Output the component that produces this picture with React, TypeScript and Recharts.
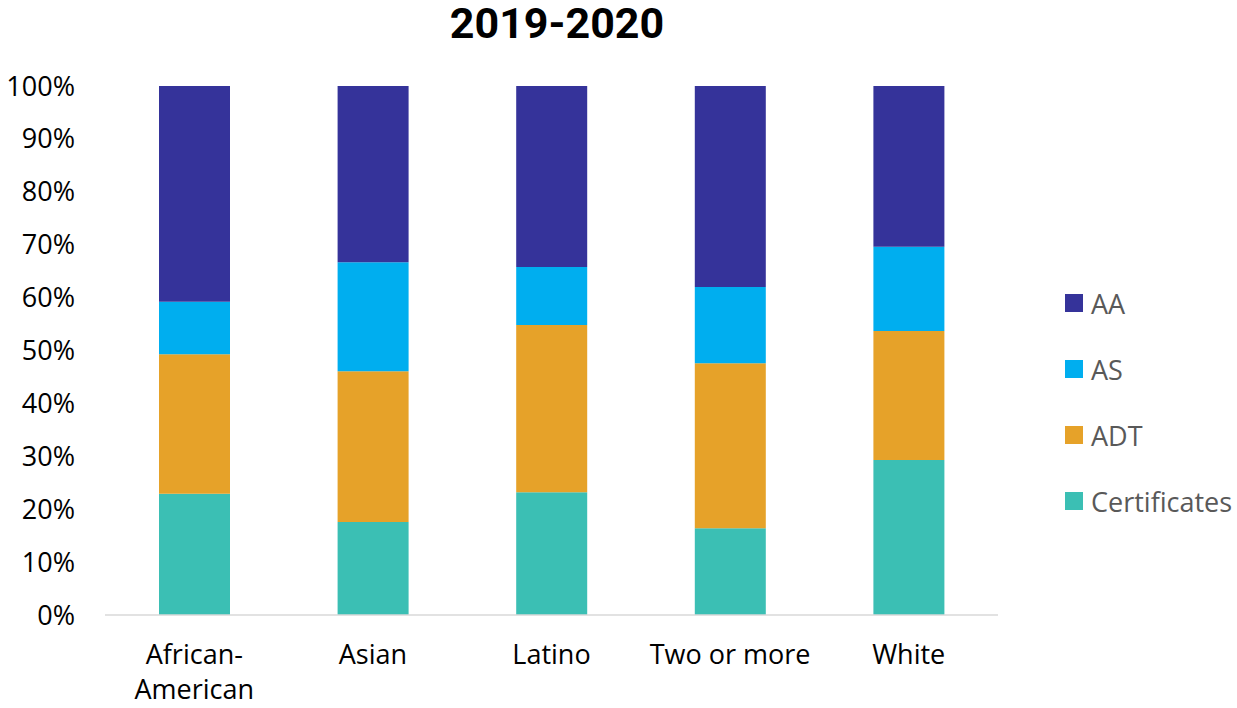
import React from 'react';
import { BarChart, Bar, XAxis, YAxis, Legend } from 'recharts';

const categories = ['African-American', 'Asian', 'Latino', 'Two or more', 'White'];
const certificates = [22.9, 17.6, 23.2, 16.4, 29.3];
const adt = [26.4, 28.5, 31.6, 31.2, 24.4];
const asDegrees = [9.9, 20.6, 11.0, 14.4, 15.9];
const aaDegrees = [40.8, 33.3, 34.2, 38.0, 30.4];
const yTicks = [0, 10, 20, 30, 40, 50, 60, 70, 80, 90, 100];

const series = [
    { key: 'Certificates', values: certificates, color: '#3BBFB4' },
    { key: 'ADT', values: adt, color: '#E6A229' },
    { key: 'AS', values: asDegrees, color: '#00AEEF' },
    { key: 'AA', values: aaDegrees, color: '#35339A' },
];

const data = categories.map((name, i) => {
    const row: Record<string, string | number> = { name };
    series.forEach((s) => {
        row[s.key] = s.values[i];
    });
    return row;
});

const FONT = '"Open Sans", sans-serif';

const XTick = (props: any) => {
    const { x, y, payload } = props;
    const label: string = payload.value;
    const lines = label.includes('-')
        ? [label.slice(0, label.indexOf('-') + 1), label.slice(label.indexOf('-') + 1)]
        : [label];
    return (
        <text x={x} y={y} textAnchor="middle" fill="#000" fontSize={27} fontFamily={FONT}>
            {lines.map((l, i) => (
                <tspan key={i} x={x} dy={i === 0 ? 49 : 35}>
                    {l}
                </tspan>
            ))}
        </text>
    );
};

const LegendContent = () => (
    <div style={{ fontFamily: FONT }}>
        {[...series].reverse().map((s) => (
            <div key={s.key} style={{ height: 66, display: 'flex', alignItems: 'center' }}>
                <span style={{ width: 18, height: 18, background: s.color, marginRight: 8 }} />
                <span style={{ fontSize: 27, color: '#595959' }}>{s.key}</span>
            </div>
        ))}
    </div>
);

export default function App() {
    return (
        <div style={{ position: 'absolute', left: 0, top: 0, width: 1237, height: 708, background: '#fff' }}>
            <div
                style={{
                    position: 'absolute',
                    left: 0,
                    width: 1114,
                    top: 0,
                    textAlign: 'center',
                    fontFamily: 'Roboto, sans-serif',
                    fontWeight: 700,
                    fontSize: 43,
                    lineHeight: '46px',
                    color: '#000',
                    zIndex: 1,
                }}
            >
                2019-2020
            </div>
            <BarChart
                width={1237}
                height={708}
                data={data}
                margin={{ top: 86, right: 239, bottom: 63, left: 0 }}
            >
                <XAxis
                    dataKey="name"
                    height={30}
                    axisLine={{ stroke: '#D9D9D9', strokeWidth: 1.5 }}
                    tickLine={false}
                    tickSize={0}
                    tickMargin={0}
                    interval={0}
                    tick={<XTick />}
                />
                <YAxis
                    width={105}
                    domain={[0, 100]}
                    ticks={yTicks}
                    tickFormatter={(v) => `${v}%`}
                    axisLine={false}
                    tickLine={false}
                    tickSize={0}
                    tickMargin={30}
                    tick={{ fill: '#000', fontSize: 27, fontFamily: FONT }}
                />
                <Legend
                    layout="vertical"
                    align="center"
                    verticalAlign="middle"
                    content={<LegendContent />}
                    wrapperStyle={{ left: 1065, top: 270, width: 172 }}
                />
                {series.map((s) => (
                    <Bar
                        key={s.key}
                        dataKey={s.key}
                        stackId="a"
                        fill={s.color}
                        barSize={71}
                        isAnimationActive={false}
                    />
                ))}
            </BarChart>
        </div>
    );
}
